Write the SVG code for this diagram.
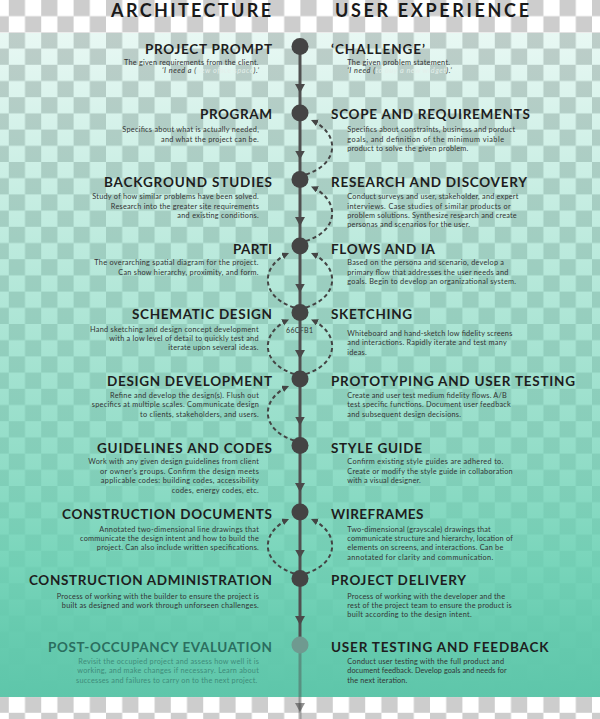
<svg xmlns="http://www.w3.org/2000/svg" width="600" height="719" viewBox="0 0 600 719">
<defs>
<pattern id="chk" patternUnits="userSpaceOnUse" x="8.8" y="0" width="32.4" height="32.4">
<rect width="32.4" height="32.4" fill="#ffffff"/>
<rect width="16.2" height="16.2" fill="#cdcdcd"/>
<rect x="16.2" y="16.2" width="16.2" height="16.2" fill="#cdcdcd"/>
</pattern>
<linearGradient id="teal" gradientUnits="userSpaceOnUse" x1="0" y1="33" x2="0" y2="697">
<stop offset="0" stop-color="#66CFB1" stop-opacity="0.15"/>
<stop offset="0.2" stop-color="#66CFB1" stop-opacity="0.33"/>
<stop offset="0.45" stop-color="#66CFB1" stop-opacity="0.55"/>
<stop offset="0.65" stop-color="#66CFB1" stop-opacity="0.72"/>
<stop offset="0.8" stop-color="#66CFB1" stop-opacity="0.88"/>
<stop offset="0.9" stop-color="#62CAAD" stop-opacity="0.96"/>
<stop offset="1" stop-color="#5EC6AA" stop-opacity="1"/>
</linearGradient>
<marker id="down" markerUnits="userSpaceOnUse" markerWidth="10" markerHeight="10" refX="9" refY="5" orient="auto">
<path d="M0,0 L9,5 L0,10 Z" fill="#4a4a4a"/>
</marker>
<marker id="dash" markerUnits="userSpaceOnUse" markerWidth="8" markerHeight="8" refX="7" refY="3.5" orient="auto">
<path d="M0,0 L7,3.5 L0,7 Z" fill="#444444"/>
</marker>
<marker id="downf" markerUnits="userSpaceOnUse" markerWidth="10" markerHeight="10" refX="9" refY="5" orient="auto">
<path d="M0,0 L9,5 L0,10 Z" fill="#4a4a4a" fill-opacity="0.6"/>
</marker>
</defs>
<style>
.ttl{font-family:Lato,'Liberation Sans',sans-serif;font-weight:700;font-size:18px;fill:#1a1a1a}
.h{font-family:Lato,'Liberation Sans',sans-serif;font-weight:700;font-size:13.5px;fill:#1e1e1e}
.d{font-family:Lato,'Liberation Sans',sans-serif;font-size:7.3px;fill:#333333}
.i{font-style:italic}
.l{text-anchor:end}
.fd{fill:#e4efeb}
.node{fill:#444444}
.ln{fill:none;stroke:#505050;stroke-width:3}
.arc{fill:none;stroke:#444444;stroke-width:2;stroke-dasharray:4 3}
.ph{fill:#2b6e5f}
.pd{fill:#3f8c7a}
.code{font-family:Lato,'Liberation Sans',sans-serif;font-size:7px;fill:#333333}
</style>
<rect width="600" height="719" fill="url(#chk)"/>
<rect x="0" y="33" width="600" height="664" fill="url(#teal)"/>

<g id="titles">
<text class="ttl l" x="271" y="17" textLength="160">ARCHITECTURE</text>
<text class="ttl" x="335" y="17" textLength="194">USER EXPERIENCE</text>
</g>

<text class="code" x="286" y="333" textLength="27">66CFB1</text>

<g id="connectors">
<path class="ln" d="M300,46.5 V93 V113" marker-mid="url(#down)"/>
<path class="ln" d="M300,113 V159.5 V179.5" marker-mid="url(#down)"/>
<path class="ln" d="M300,179.5 V226 V246" marker-mid="url(#down)"/>
<path class="ln" d="M300,246 V292.5 V312.5" marker-mid="url(#down)"/>
<path class="ln" d="M300,312.5 V359 V379" marker-mid="url(#down)"/>
<path class="ln" d="M300,379 V425.5 V445.5" marker-mid="url(#down)"/>
<path class="ln" d="M300,445.5 V492 V512" marker-mid="url(#down)"/>
<path class="ln" d="M300,512 V558.5 V578.5" marker-mid="url(#down)"/>
<path class="ln" d="M300,578.5 V625 V645" marker-mid="url(#down)"/>
<path class="ln" d="M300,645 V712 V719" marker-mid="url(#downf)" stroke-opacity="0.45"/>
<path class="arc" d="M306,174.5 C340,163.5 340,133 311,120" marker-end="url(#dash)"/>
<path class="arc" d="M306,241 C340,230 340,199.5 311,186.5" marker-end="url(#dash)"/>
<path class="arc" d="M306,307.5 C340,296.5 340,266 311,253" marker-end="url(#dash)"/>
<path class="arc" d="M306,374 C340,363 340,332.5 311,319.5" marker-end="url(#dash)"/>
<path class="arc" d="M306,573.5 C340,562.5 340,532 311,519" marker-end="url(#dash)"/>
<path class="arc" d="M294,307.5 C260,296.5 260,266 289,253" marker-end="url(#dash)"/>
<path class="arc" d="M294,374 C260,363 260,332.5 289,319.5" marker-end="url(#dash)"/>
<path class="arc" d="M294,440.5 C260,429.5 260,399 289,386" marker-end="url(#dash)"/>
<path class="arc" d="M294,573.5 C260,562.5 260,532 289,519" marker-end="url(#dash)"/>
</g>

<g id="n0">
<circle class="node" cx="300" cy="46.5" r="8.5"/>
<text class="h l" x="272" y="54" textLength="127">PROJECT PROMPT</text>
<text class="d l" x="258.5" y="65" textLength="134.5">The given requirements from the client.</text>
<text class="d l i" x="259" y="72.7" textLength="97">‘I need a (<tspan class="fd">new office space</tspan>).’</text>
<text class="h" x="331" y="54" textLength="94">‘CHALLENGE’</text>
<text class="d" x="347.3" y="65" textLength="102.7">The given problem statement.</text>
<text class="d i" x="347.3" y="72.7" textLength="104.4">‘I need (<tspan class="fd">to buy a new widget</tspan>).’</text>
</g>

<g id="n1">
<circle class="node" cx="300" cy="113" r="8.5"/>
<text class="h l" x="272" y="119" textLength="72">PROGRAM</text>
<text class="d l" x="258.8" y="132.3" textLength="136.5">Specifics about what is actually needed,</text>
<text class="d l" x="258.8" y="141.7" textLength="97.8">and what the project can be.</text>
<text class="h" x="331" y="119" textLength="199">SCOPE AND REQUIREMENTS</text>
<text class="d" x="347.3" y="132.3" textLength="167.7">Specifics about constraints, business and porduct</text>
<text class="d" x="347.3" y="141.7" textLength="156.7">goals, and definition of the minimum viable</text>
<text class="d" x="347.3" y="151" textLength="121">product to solve the given problem.</text>
</g>

<g id="n2">
<circle class="node" cx="300" cy="179.5" r="8.5"/>
<text class="h l" x="272" y="187" textLength="168">BACKGROUND STUDIES</text>
<text class="d l" x="258.8" y="199.3" textLength="166.5">Study of how similar problems have been solved.</text>
<text class="d l" x="258.8" y="208.7" textLength="148">Research into the greater site requirements</text>
<text class="d l" x="258.8" y="218" textLength="81.5">and existing conditions.</text>
<text class="h" x="331" y="187" textLength="196">RESEARCH AND DISCOVERY</text>
<text class="d" x="347.3" y="199.3" textLength="171">Conduct surveys and user, stakeholder, and expert</text>
<text class="d" x="347.3" y="208.7" textLength="163.4">interviews. Case studies of similar products or</text>
<text class="d" x="347.3" y="218" textLength="169.4">problem solutions. Synthesize research and create</text>
<text class="d" x="347.3" y="227.3" textLength="122.7">personas and scenarios for the user.</text>
</g>

<g id="n3">
<circle class="node" cx="300" cy="246" r="8.5"/>
<text class="h l" x="272" y="254" textLength="39">PARTI</text>
<text class="d l" x="258.5" y="265.3" textLength="164.2">The overarching spatial diagram for the project.</text>
<text class="d l" x="258.5" y="274.7" textLength="140.2">Can show hierarchy, proximity, and form.</text>
<text class="h" x="331" y="254" textLength="104">FLOWS AND IA</text>
<text class="d" x="347.3" y="265.3" textLength="156.7">Based on the persona and scenario, develop a</text>
<text class="d" x="347.3" y="274.7" textLength="161">primary flow that addresses the user needs and</text>
<text class="d" x="347.3" y="284" textLength="168.7">goals. Begin to develop an organizational system.</text>
</g>

<g id="n4">
<circle class="node" cx="300" cy="312.5" r="8.5"/>
<text class="h l" x="272" y="319.3" textLength="140">SCHEMATIC DESIGN</text>
<text class="d l" x="258.5" y="331.7" textLength="168.5">Hand sketching and design concept development</text>
<text class="d l" x="258.5" y="341" textLength="149.2">with a low level of detail to quickly test and</text>
<text class="d l" x="258.5" y="350.3" textLength="90.2">iterate upon several ideas.</text>
<text class="h" x="331" y="319.3" textLength="81">SKETCHING</text>
<text class="d" x="347.3" y="336" textLength="165">Whiteboard and hand-sketch low fidelity screens</text>
<text class="d" x="347.3" y="345.3" textLength="159.4">and interactions. Rapidly iterate and test many</text>
<text class="d" x="347.3" y="354.7" textLength="19.4">ideas.</text>
</g>

<g id="n5">
<circle class="node" cx="300" cy="379" r="8.5"/>
<text class="h l" x="272" y="386" textLength="165">DESIGN DEVELOPMENT</text>
<text class="d l" x="258.8" y="397.7" textLength="148.8">Refine and develop the design(s). Flush out</text>
<text class="d l" x="258.8" y="407.3" textLength="167">specifics at multiple scales. Communicate design</text>
<text class="d l" x="258.8" y="416.7" textLength="118.8">to clients, stakeholders, and users.</text>
<text class="h" x="331" y="386" textLength="244">PROTOTYPING AND USER TESTING</text>
<text class="d" x="347.3" y="397.7" textLength="159.4">Create and user test medium fidelity flows. A/B</text>
<text class="d" x="347.3" y="407.3" textLength="163.4">test specific functions. Document user feedback</text>
<text class="d" x="347.3" y="416.7" textLength="113.7">and subsequent design decisions.</text>
</g>

<g id="n6">
<circle class="node" cx="300" cy="445.5" r="8.5"/>
<text class="h l" x="272" y="452.7" textLength="175">GUIDELINES AND CODES</text>
<text class="d l" x="258.8" y="464.3" textLength="170.5">Work with any given design guidelines from client</text>
<text class="d l" x="258.8" y="473.7" textLength="158.8">or owner’s groups. Confirm the design meets</text>
<text class="d l" x="258.8" y="483.3" textLength="158">applicable codes: building codes, accessibility</text>
<text class="d l" x="258.8" y="492.7" textLength="87">codes, energy codes, etc.</text>
<text class="h" x="331" y="452.7" textLength="91">STYLE GUIDE</text>
<text class="d" x="347.3" y="464.3" textLength="156">Confirm existing style guides are adhered to.</text>
<text class="d" x="347.3" y="473.7" textLength="165.4">Create or modify the style guide in collaboration</text>
<text class="d" x="347.3" y="483.3" textLength="73.4">with a visual designer.</text>
</g>

<g id="n7">
<circle class="node" cx="300" cy="512" r="8.5"/>
<text class="h l" x="272" y="519" textLength="210">CONSTRUCTION DOCUMENTS</text>
<text class="d l" x="258.8" y="531.7" textLength="159.5">Annotated two-dimensional line drawings  that</text>
<text class="d l" x="258.8" y="541" textLength="178.8">communicate the design intent and how to build the</text>
<text class="d l" x="258.8" y="550.3" textLength="162">project. Can also include written specifications.</text>
<text class="h" x="331" y="519" textLength="92.5">WIREFRAMES</text>
<text class="d" x="347.3" y="531.7" textLength="143.4">Two-dimensional (grayscale) drawings that</text>
<text class="d" x="347.3" y="541" textLength="165.4">communicate structure and hierarchy, location of</text>
<text class="d" x="347.3" y="550.3" textLength="156">elements on screens, and interactions. Can be</text>
<text class="d" x="347.3" y="559.7" textLength="146">annotated for clarity and communication.</text>
</g>

<g id="n8">
<circle class="node" cx="300" cy="578.5" r="8.5"/>
<text class="h l" x="272" y="585" textLength="243">CONSTRUCTION ADMINISTRATION</text>
<text class="d l" x="258.8" y="598.7" textLength="202">Process of working with the builder to ensure the project is</text>
<text class="d l" x="258.8" y="607.5" textLength="197">built as designed and work through unforseen challenges.</text>
<text class="h" x="331" y="585" textLength="135">PROJECT DELIVERY</text>
<text class="d" x="347.3" y="598.7" textLength="157.7">Process of working with the developer and the</text>
<text class="d" x="347.3" y="607.5" textLength="164.4">rest of the project team to ensure the product is</text>
<text class="d" x="347.3" y="616.7" textLength="124.4">built according to the design intent.</text>
</g>

<g id="n9">
<circle cx="300" cy="645" r="8.5" fill="#6f9a90"/>
<text class="h l ph" x="272" y="652.3" textLength="224">POST-OCCUPANCY EVALUATION</text>
<text class="d l pd" x="258.8" y="664" textLength="180.5">Revisit the occupied project and assess how well it is</text>
<text class="d l pd" x="258.8" y="673.3" textLength="181.5">working, and make changes if necessary. Learn about</text>
<text class="d l pd" x="257.3" y="682.7" textLength="181.3">successes and failures to carry on to the next project.</text>
<text class="h" x="331" y="652.3" textLength="217.5">USER TESTING AND FEEDBACK</text>
<text class="d" x="347.3" y="664" textLength="156.7">Conduct user testing with the full product and</text>
<text class="d" x="347.3" y="673.3" textLength="159.4">document feedback. Develop goals and needs for</text>
<text class="d" x="347.3" y="682.7" textLength="60">the next iteration.</text>
</g>
</svg>
